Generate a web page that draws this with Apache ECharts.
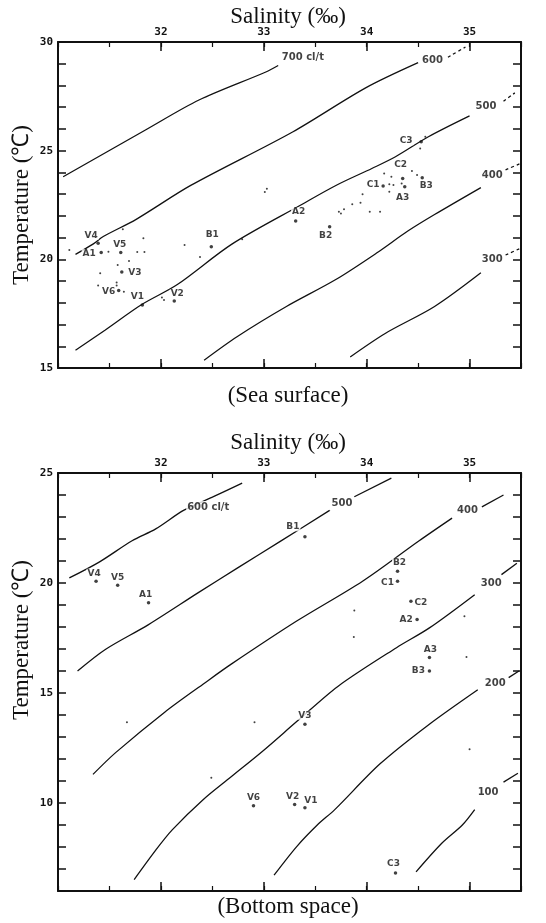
<!DOCTYPE html>
<html><head><meta charset="utf-8">
<script src="https://cdn.jsdelivr.net/npm/echarts@6/dist/echarts.min.js"></script>
<style>html,body{margin:0;padding:0;background:#fff}#c{width:546px;height:923px}</style>
</head><body><div id="c"></div>
<script>
// ---------------- DATA ----------------
const salinityTicks = [32, 33, 34, 35];
const surfaceTempTicks = [15, 20, 25, 30];
const bottomTempTicks = [10, 15, 20, 25];

// Sea surface isolines (cl/t): [salinity, temperature]
const surf700 = [[31.05,23.8],[31.85,25.95],[32.37,27.33],[33.02,28.62],[33.14,28.92]];
const surf600 = [[31.17,20.23],[31.34,20.7],[31.44,21.05],[31.76,21.84],[32.29,23.4],[33.28,25.86],[33.99,27.89],[34.5,29.05]];
const surf600Tail = [[34.79,29.3],[34.96,29.77]];
const surf500 = [[31.17,15.82],[31.46,16.75],[31.81,17.91],[32.16,18.84],[32.69,20.7],[33.36,22.5],[33.71,23.42],[34.05,24.18],[34.28,24.72],[34.6,25.64],[35.0,26.6]];
const surf500Tail = [[35.33,27.27],[35.44,27.66]];
const surf400 = [[32.42,15.36],[32.74,16.44],[33.22,17.83],[33.7,19.07],[34.1,20.3],[34.4,21.3],[34.66,22.06],[35.11,23.3]];
const surf400Tail = [[35.35,24.12],[35.49,24.4]];
const surf300 = [[33.84,15.51],[34.18,16.59],[34.66,17.83],[35.11,19.38]];
const surf300Tail = [[35.35,20.2],[35.49,20.5]];
const surfIsoLabels = [['700 cl/t',33.38,29.3],['600',34.64,29.14],['500',35.16,27.05],['400',35.22,23.85],['300',35.22,20.0]];

// Sea surface stations
const surfStations = [
  ['V1',31.82,17.90],['V2',32.13,18.08],['V3',31.62,19.42],['V4',31.39,20.74],['V5',31.61,20.31],['V6',31.59,18.57],
  ['A1',31.42,20.31],['A2',33.31,21.76],['A3',34.37,23.34],
  ['B1',32.49,20.58],['B2',33.64,21.50],['B3',34.54,23.75],
  ['C1',34.16,23.37],['C2',34.35,23.72],['C3',34.53,25.41]
];
const surfOther = [[31.11,20.43],[31.49,20.35],[31.63,21.38],[31.83,20.97],[31.77,20.34],[31.84,20.34],[31.58,19.74],[31.69,19.92],[31.41,19.36],[31.57,18.93],[31.57,18.80],[31.39,18.80],[31.64,18.51],[32.01,18.24],[32.03,18.13],[32.23,20.66],[32.38,20.11],[32.79,20.92],[33.01,23.1],[33.03,23.25],[34.57,25.64],[34.52,25.10],[34.17,23.95],[34.24,23.80],[34.34,23.49],[34.44,24.06],[34.49,23.88],[34.22,23.46],[34.26,23.42],[34.22,23.11],[33.96,22.99],[33.94,22.60],[33.86,22.53],[33.78,22.31],[33.73,22.19],[33.75,22.11],[34.03,22.19],[34.13,22.19]];

// Bottom isolines (cl/t)
const bot600 = [[31.11,20.23],[31.4,20.95],[31.72,21.92],[31.95,22.46],[32.22,23.3],[32.5,23.9],[32.79,24.54]];
const bot500 = [[31.19,16.0],[31.46,16.98],[31.88,18.11],[32.36,19.55],[32.75,20.7],[33.16,21.89],[33.64,23.3]];
const bot500Tail = [[33.88,23.92],[34.24,24.77]];
const bot400 = [[31.34,11.3],[31.56,12.29],[32.04,14.14],[32.43,15.47],[32.68,16.3],[33.32,18.27],[33.96,20.08],[34.51,21.92],[34.83,22.95]];
const bot400Tail = [[35.12,23.46],[35.33,24.0]];
const bot300 = [[31.74,6.52],[31.95,7.86],[32.11,8.78],[32.41,10.15],[32.68,11.18],[33.0,12.4],[33.32,13.7],[33.72,15.3],[34.29,17.06],[34.61,17.96],[35.05,19.47]];
const bot300Tail = [[35.31,20.38],[35.46,20.9]];
const bot200 = [[33.1,6.72],[33.32,8.02],[33.52,9.0],[33.69,9.7],[34.13,11.78],[34.6,13.55],[35.08,15.15]];
const bot200Tail = [[35.38,15.7],[35.48,16.0]];
const bot100 = [[34.48,6.87],[34.73,8.17],[34.93,9.0],[35.05,9.7]];
const bot100Tail = [[35.33,10.95],[35.47,11.35]];
const botIsoLabels = [['600 cl/t',32.46,23.45],['500',33.76,23.6],['400',34.98,23.3],['300',35.21,20.0],['200',35.25,15.45],['100',35.18,10.5]];

// Bottom stations
const botStations = [
  ['V1',33.40,9.78],['V2',33.30,9.93],['V3',33.40,13.58],['V4',31.37,20.08],['V5',31.58,19.9],['V6',32.90,9.88],
  ['A1',31.88,19.1],['A2',34.49,18.34],['A3',34.61,16.61],
  ['B1',33.40,22.1],['B2',34.30,20.53],['B3',34.61,16.0],
  ['C1',34.30,20.08],['C2',34.43,19.17],['C3',34.28,6.82]
];
const botOther = [[33.88,18.75],[33.875,17.54],[34.95,18.49],[34.97,16.64],[31.67,13.67],[32.91,13.67],[32.49,11.15],[35.0,12.44]];

// ---------------- STYLE / LAYOUT ----------------
const INK = '#111';
const GRIDS = [{left:58, top:42, width:463, height:326},{left:58, top:473, width:463, height:418}];
const Y_RANGE = [[15,30],[6,25]];
const Y_TICKS = [surfaceTempTicks, bottomTempTicks];
const surfLabelOffset = {V4:[-7,-8],A1:[-12,1],V5:[-1,-8],V3:[13,1],V6:[-10,1],V1:[-5,-8],V2:[3,-7],B1:[1,-12],A2:[3,-9],B2:[-4,9],C1:[-10,-1],C2:[-2,-14],A3:[-2,11],B3:[4,8],C3:[-15,-1]};
const botLabelOffset = {V4:[-2,-8],V5:[0,-8],A1:[-3,-8],B2:[2,-9],C1:[-10,1],C2:[10,1],A2:[-11,0],A3:[1,-8],B3:[-11,0],B1:[-12,-10],V3:[0,-9],V6:[0,-8],V2:[-2,-8],V1:[6,-7],C3:[-2,-9]};
const TICK_FONT = {fontFamily:'DejaVu Sans Mono', fontWeight:'bold', fontSize:11, color:INK};
const MARK_FONT = {fontFamily:'DejaVu Sans', fontWeight:'bold', fontSize:9, color:INK};
const SERIF = 'Liberation Serif';

const xAxis = [], yAxis = [];
GRIDS.forEach((g, gi) => {
  const base = {gridIndex:gi, type:'value', min:31, max:35.5, splitLine:{show:false}};
  const line = {show:true, onZero:false, lineStyle:{color:INK, width:2}};
  xAxis.push({...base, position:'top', interval:1, axisLine:line,
    axisTick:{show:true, inside:true, length:9, lineStyle:{color:INK, width:1.5}},
    axisLabel:{show:true, margin:4, ...TICK_FONT, formatter:v => salinityTicks.includes(v) ? String(v) : ''}});
  xAxis.push({...base, position:'top', interval:0.5, axisLine:{show:false},
    axisTick:{show:true, inside:true, length:5, lineStyle:{color:INK, width:1.2}}, axisLabel:{show:false}});
  xAxis.push({...base, position:'bottom', interval:1, axisLine:line,
    axisTick:{show:true, inside:true, length:9, lineStyle:{color:INK, width:1.5}}, axisLabel:{show:false}});
  xAxis.push({...base, position:'bottom', interval:0.5, axisLine:{show:false},
    axisTick:{show:true, inside:true, length:5, lineStyle:{color:INK, width:1.2}}, axisLabel:{show:false}});
  const yb = {gridIndex:gi, type:'value', min:Y_RANGE[gi][0], max:Y_RANGE[gi][1], interval:1, splitLine:{show:false}};
  yAxis.push({...yb, position:'left', axisLine:line,
    axisTick:{show:true, inside:true, length:8, lineStyle:{color:INK, width:1.5}},
    axisLabel:{show:true, margin:5, ...TICK_FONT, formatter:v => Y_TICKS[gi].includes(v) ? String(v) : ''}});
  yAxis.push({...yb, position:'right', axisLine:line,
    axisTick:{show:true, inside:true, length:8, lineStyle:{color:INK, width:1.5}}, axisLabel:{show:false}});
});

const series = [];
function addLine(gi, data, dashed) {
  series.push({type:'line', xAxisIndex:gi*4, yAxisIndex:gi*2, data, symbol:'none', smooth:0.3, silent:true,
    lineStyle:{color:INK, width:1.3, type: dashed ? [3,3] : 'solid'}, z:2});
}
[surf700, surf600, surf500, surf400, surf300].forEach(d => addLine(0, d, false));
[surf600Tail, surf500Tail, surf400Tail, surf300Tail].forEach(d => addLine(0, d, true));
[bot600, bot500, bot400, bot300, bot200, bot100].forEach(d => addLine(1, d, false));
[bot500Tail, bot400Tail, bot300Tail, bot200Tail, bot100Tail].forEach(d => addLine(1, d, false));

function addIsoLabels(gi, labels) {
  series.push({type:'scatter', xAxisIndex:gi*4, yAxisIndex:gi*2, symbolSize:0.1, silent:true, z:5,
    itemStyle:{color:'rgba(0,0,0,0)'},
    data: labels.map(l => ({value:[l[1], l[2]], name:l[0]})),
    label:{show:true, position:'inside', formatter:'{b}', ...MARK_FONT, fontSize:10, backgroundColor:'#fff', padding:[1,1]}});
}
addIsoLabels(0, surfIsoLabels);
addIsoLabels(1, botIsoLabels);

function addStations(gi, st, offsets, other) {
  series.push({type:'scatter', xAxisIndex:gi*4, yAxisIndex:gi*2, symbolSize:2, silent:true, z:3,
    itemStyle:{color:INK}, data: other});
  series.push({type:'scatter', xAxisIndex:gi*4, yAxisIndex:gi*2, symbolSize:3.5, silent:true, z:4,
    itemStyle:{color:INK},
    data: st.map(s => ({value:[s[1], s[2]], name:s[0], label:{offset:offsets[s[0]] || [0,-8]}})),
    label:{show:true, position:'inside', formatter:'{b}', ...MARK_FONT, backgroundColor:'#fff', padding:[0,1]}});
}
addStations(0, surfStations, surfLabelOffset, surfOther);
addStations(1, botStations, botLabelOffset, botOther);

const titleFont = `23px "${SERIF}"`;
const graphic = [
  {type:'text', x:288, y:17, style:{text:'Salinity (‰)', font:titleFont, fill:INK, textAlign:'center', textVerticalAlign:'middle'}},
  {type:'text', x:288, y:396, style:{text:'(Sea surface)', font:titleFont, fill:INK, textAlign:'center', textVerticalAlign:'middle'}},
  {type:'text', x:288, y:443, style:{text:'Salinity (‰)', font:titleFont, fill:INK, textAlign:'center', textVerticalAlign:'middle'}},
  {type:'text', x:288, y:907, style:{text:'(Bottom space)', font:titleFont, fill:INK, textAlign:'center', textVerticalAlign:'middle'}},
  {type:'text', x:22, y:205, rotation:Math.PI/2, style:{text:'Temperature (℃)', font:titleFont, fill:INK, textAlign:'center', textVerticalAlign:'middle'}},
  {type:'text', x:22, y:640, rotation:Math.PI/2, style:{text:'Temperature (℃)', font:titleFont, fill:INK, textAlign:'center', textVerticalAlign:'middle'}}
];

const chart = echarts.init(document.getElementById('c'));
chart.setOption({
  animation:false, backgroundColor:'#fff',
  grid: GRIDS.map(g => ({...g, containLabel:false})),
  xAxis, yAxis, series, graphic
});
</script></body></html>
